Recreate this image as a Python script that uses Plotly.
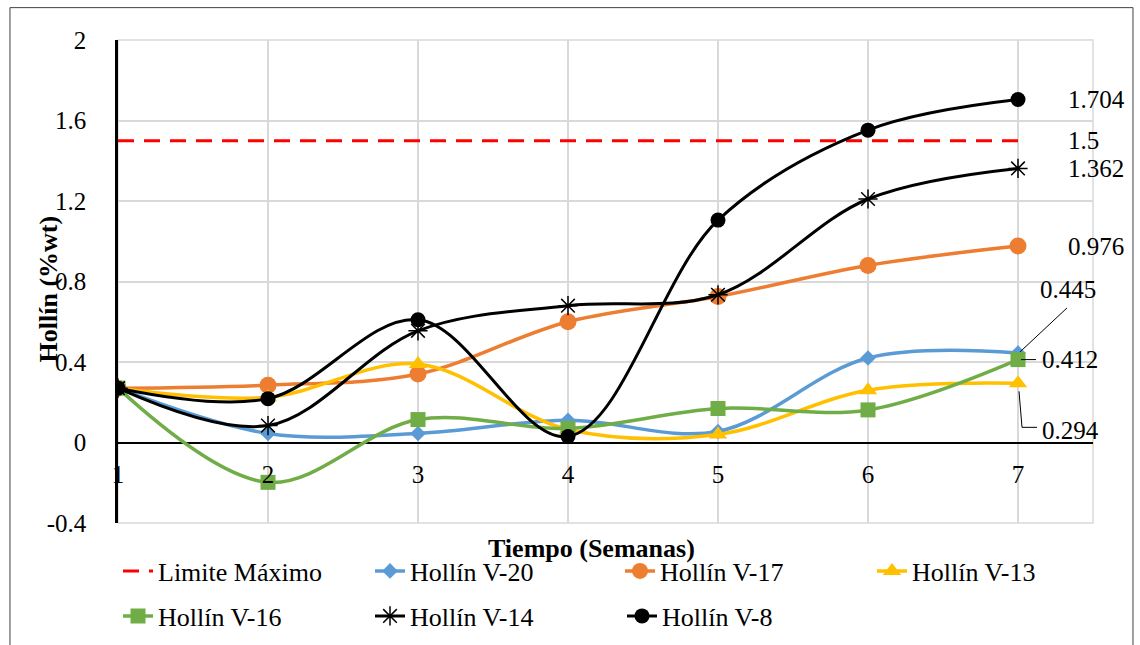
import plotly.graph_objects as go

semanas = [1, 2, 3, 4, 5, 6, 7]
limite = [1.5, 1.5, 1.5, 1.5, 1.5, 1.5, 1.5]
v20 = [0.27, 0.045, 0.045, 0.11, 0.055, 0.42, 0.445]
v17 = [0.27, 0.285, 0.34, 0.60, 0.725, 0.88, 0.976]
v13 = [0.27, 0.225, 0.39, 0.065, 0.04, 0.26, 0.294]
v16 = [0.27, -0.198, 0.114, 0.07, 0.169, 0.162, 0.412]
v14 = [0.27, 0.084, 0.555, 0.68, 0.734, 1.21, 1.362]
v8 = [0.27, 0.218, 0.61, 0.03, 1.105, 1.552, 1.704]

y_ticks = [-0.4, 0, 0.4, 0.8, 1.2, 1.6, 2]
y_ticktext = ["-0.4", "0", "0.4", "0.8", "1.2", "1.6", "2"]

FONT = "Liberation Serif, Times New Roman, serif"
FS = 25

fig = go.Figure()

fig.add_trace(go.Scatter(x=semanas, y=limite, mode="lines", name="Limite Máximo",
                         line=dict(color="#FF0000", width=3, dash="16px,10px"), legend="legend"))
fig.add_trace(go.Scatter(x=semanas, y=v20, mode="lines+markers", name="Hollín V-20",
                         line=dict(color="#5B9BD5", width=3.5, shape="spline"),
                         marker=dict(symbol="diamond", size=12, color="#5B9BD5"), legend="legend"))
fig.add_trace(go.Scatter(x=semanas, y=v17, mode="lines+markers", name="Hollín V-17",
                         line=dict(color="#ED7D31", width=3.5, shape="spline"),
                         marker=dict(symbol="circle", size=17, color="#ED7D31"), legend="legend3"))
fig.add_trace(go.Scatter(x=semanas, y=v13, mode="lines+markers", name="Hollín V-13",
                         line=dict(color="#FFC000", width=3.5, shape="spline"),
                         marker=dict(symbol="triangle-up", size=16, color="#FFC000"), legend="legend3"))
fig.add_trace(go.Scatter(x=semanas, y=v16, mode="lines+markers", name="Hollín V-16",
                         line=dict(color="#70AD47", width=3.5, shape="spline"),
                         marker=dict(symbol="square", size=15, color="#70AD47"), legend="legend2"))
fig.add_trace(go.Scatter(x=semanas, y=v14, mode="lines+markers", name="Hollín V-14",
                         line=dict(color="#000000", width=3, shape="spline"),
                         marker=dict(symbol="asterisk-open", size=16, color="#000000",
                                     line=dict(color="#000000", width=1.5)), legend="legend2"))
fig.add_trace(go.Scatter(x=semanas, y=v8, mode="lines+markers", name="Hollín V-8",
                         line=dict(color="#000000", width=3, shape="spline"),
                         marker=dict(symbol="circle", size=15, color="#000000"), legend="legend2"))

lbl_font = dict(family=FONT, size=FS, color="black")
# data labels at the last point
annotations = []
for series, txt in [(v8, "1.704"), (limite, "1.5"), (v14, "1.362"), (v17, "0.976")]:
    annotations.append(dict(x=semanas[-1], y=series[-1], text=txt, showarrow=False,
                            xanchor="left", xshift=48, font=lbl_font))
annotations.append(dict(x=semanas[-1], y=v16[-1], text="0.412", showarrow=False,
                        xanchor="left", xshift=22, font=lbl_font))
annotations.append(dict(x=semanas[-1], y=v20[-1], text="0.445", showarrow=False,
                        xanchor="left", xshift=20, yshift=63, font=lbl_font))
annotations.append(dict(x=semanas[-1], y=v13[-1], text="0.294", showarrow=False,
                        xanchor="left", xshift=22, yshift=-47, font=lbl_font))
# axis titles
annotations.append(dict(xref="paper", yref="paper", x=0.486, y=-0.018, yanchor="top",
                        text="<b>Tiempo (Semanas)</b>", showarrow=False,
                        font=dict(family=FONT, size=26, color="black")))
annotations.append(dict(xref="paper", yref="paper", x=-0.088, y=0.485, textangle=-90,
                        text="<b>Hollín (%wt)</b>", showarrow=False,
                        font=dict(family=FONT, size=26, color="black")))

leader = dict(color="black", width=1)
shapes = [
    # plot area border (grey)
    dict(type="rect", xref="paper", yref="paper", x0=0, x1=1, y0=0, y1=1,
         line=dict(color="#D9D9D9", width=1.5), layer="below"),
    # outer chart border
    dict(type="rect", xref="paper", yref="paper", x0=-0.1108, x1=1.041, y0=-0.26, y1=1.067,
         line=dict(color="#404040", width=1)),
    # leader lines for data labels (pixel offsets from the labelled point)
    dict(type="path", xref="x", yref="y", xsizemode="pixel", ysizemode="pixel",
         xanchor=semanas[-1], yanchor=v20[-1], path="M2,1 L49,45", line=leader),
    dict(type="path", xref="x", yref="y", xsizemode="pixel", ysizemode="pixel",
         xanchor=semanas[-1], yanchor=v16[-1], path="M3,0 L18,0", line=leader),
    dict(type="path", xref="x", yref="y", xsizemode="pixel", ysizemode="pixel",
         xanchor=semanas[-1], yanchor=v13[-1], path="M1,-8 L4,-44 L19,-44", line=leader),
]

leg_common = dict(orientation="h", xref="container", yref="container", xanchor="left",
                  yanchor="middle", entrywidth=207, font=dict(family=FONT, size=26),
                  bgcolor="rgba(0,0,0,0)", borderwidth=0)

fig.update_layout(
    width=1140, height=645,
    margin=dict(l=118, r=47, t=39.5, b=122, autoexpand=False),
    paper_bgcolor="white", plot_bgcolor="white",
    font=dict(family=FONT, size=FS, color="black"),
    annotations=annotations, shapes=shapes,
    showlegend=True,
    legend=dict(x=118 / 1140, y=1 - 571 / 645, **leg_common),
    legend3=dict(x=620 / 1140, y=1 - 571 / 645, **leg_common),
    legend2=dict(x=118 / 1140, y=1 - 616 / 645, **leg_common),
)

fig.update_xaxes(range=[1, 7.5], tickvals=semanas, ticktext=[str(s) for s in semanas],
                 showgrid=True, gridcolor="#D9D9D9", gridwidth=1.5,
                 anchor="free", position=0.4 / 2.4, showline=False, zeroline=False,
                 ticks="outside", ticklen=9, tickcolor="rgba(0,0,0,0)",
                 tickfont=dict(family=FONT, size=FS, color="black"))
fig.update_yaxes(range=[-0.4, 2], tickvals=y_ticks, ticktext=y_ticktext,
                 showgrid=True, gridcolor="#D9D9D9", gridwidth=1.5,
                 zeroline=True, zerolinecolor="black", zerolinewidth=1.5,
                 showline=True, linecolor="black", linewidth=2.5,
                 ticks="outside", ticklen=24, tickcolor="rgba(0,0,0,0)",
                 tickfont=dict(family=FONT, size=FS, color="black"))

fig.write_html("out.html")
